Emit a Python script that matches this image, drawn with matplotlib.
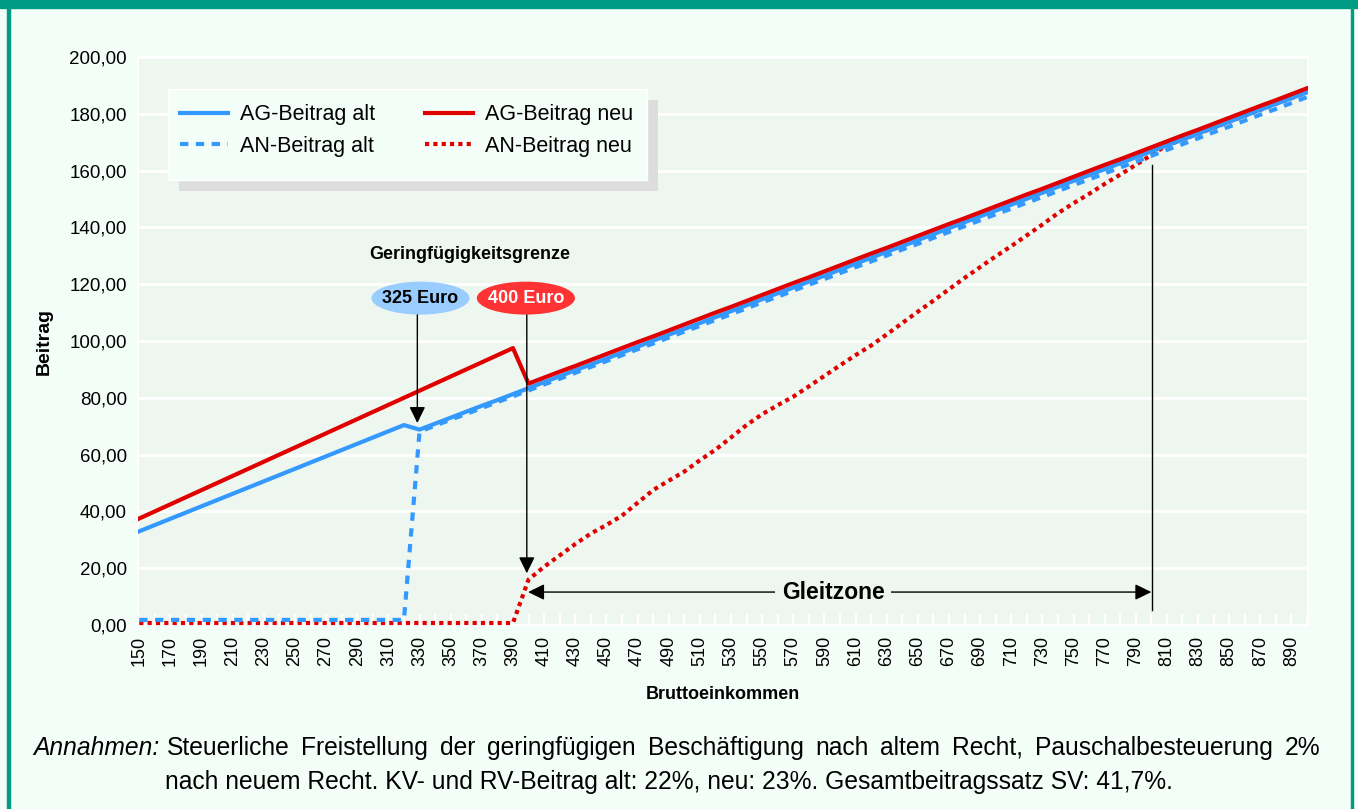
"""Beiträge alt/neu für geringfügige Beschäftigung und Gleitzone."""
import numpy as np
import matplotlib
matplotlib.use("Agg")
import matplotlib.pyplot as plt
import matplotlib.patches as patches

plt.rcParams['font.family'] = ['Liberation Sans', 'DejaVu Sans']

W, H = 1358, 809

# Bruttoeinkommen in 10-Euro-Schritten (Kategorien)
einkommen = np.arange(150, 901, 10)

ag_alt = [33.0, 35.2, 37.4, 39.6, 41.8, 44.0, 46.2, 48.4, 50.6, 52.8,
          55.0, 57.2, 59.4, 61.6, 63.8, 66.0, 68.2, 70.4, 68.8, 70.9,
          73.0, 75.1, 77.2, 79.2, 81.3, 83.4, 85.5, 87.6, 89.7, 91.7,
          93.8, 95.9, 98.0, 100.1, 102.2, 104.2, 106.3, 108.4, 110.5, 112.6,
          114.7, 116.8, 118.8, 120.9, 123.0, 125.1, 127.2, 129.3, 131.4, 133.4,
          135.5, 137.6, 139.7, 141.8, 143.9, 145.9, 148.0, 150.1, 152.2, 154.3,
          156.4, 158.4, 160.5, 162.6, 164.7, 166.8, 168.9, 170.9, 173.0, 175.1,
          177.2, 179.3, 181.4, 183.5, 185.5, 187.6]

an_alt = [1.8, 1.8, 1.8, 1.8, 1.8, 1.8, 1.8, 1.8, 1.8, 1.8,
          1.8, 1.8, 1.8, 1.8, 1.8, 1.8, 1.8, 1.8, 68.1, 70.2,
          72.3, 74.3, 76.4, 78.5, 80.5, 82.6, 84.7, 86.7, 88.8, 90.9,
          92.9, 95.0, 97.1, 99.1, 101.2, 103.3, 105.3, 107.4, 109.4, 111.5,
          113.6, 115.6, 117.7, 119.8, 121.8, 123.9, 126.0, 128.0, 130.1, 132.2,
          134.2, 136.3, 138.4, 140.4, 142.5, 144.6, 146.6, 148.7, 150.7, 152.8,
          154.9, 156.9, 159.0, 161.1, 163.1, 165.2, 167.3, 169.3, 171.4, 173.5,
          175.5, 177.6, 179.7, 181.7, 183.8, 185.9]

ag_neu = [37.5, 40.0, 42.5, 45.0, 47.5, 50.0, 52.5, 55.0, 57.5, 60.0,
          62.5, 65.0, 67.5, 70.0, 72.5, 75.0, 77.5, 80.0, 82.5, 85.0,
          87.5, 90.0, 92.5, 95.0, 97.5, 85.0, 87.1, 89.2, 91.2, 93.3,
          95.4, 97.5, 99.6, 101.6, 103.7, 105.8, 107.9, 110.0, 112.0, 114.1,
          116.2, 118.3, 120.4, 122.4, 124.5, 126.6, 128.7, 130.8, 132.8, 134.9,
          137.0, 139.1, 141.2, 143.2, 145.3, 147.4, 149.5, 151.6, 153.6, 155.7,
          157.8, 159.9, 162.0, 164.0, 166.1, 168.2, 170.3, 172.4, 174.4, 176.5,
          178.6, 180.7, 182.8, 184.8, 186.9, 189.0]

an_neu = [0.7, 0.7, 0.7, 0.7, 0.7, 0.7, 0.7, 0.7, 0.7, 0.7,
          0.7, 0.7, 0.7, 0.7, 0.7, 0.7, 0.7, 0.7, 0.7, 0.7,
          0.7, 0.7, 0.7, 0.7, 0.7, 16.0, 20.5, 24.5, 28.5, 32.2,
          35.2, 38.5, 43.0, 47.5, 50.8, 54.0, 58.0, 61.7, 66.0, 70.4,
          74.2, 77.4, 80.4, 84.0, 87.7, 91.4, 95.0, 98.4, 102.3, 106.3,
          110.3, 114.2, 118.2, 122.2, 126.0, 129.8, 133.4, 137.2, 141.0, 145.0,
          148.5, 151.8, 155.3, 158.6, 162.0, 165.5, 168.9, 170.9, 173.0, 175.1,
          177.2, 179.3, 181.4, 183.5, 185.5, 187.6]

labels = ["AG-Beitrag alt", "AN-Beitrag alt", "AG-Beitrag neu", "AN-Beitrag neu"]
y_ticks = np.arange(0, 201, 20)
x_ticks = np.arange(150, 891, 20)

grenze_alt, grenze_neu, gleit_ende = 325, 400, 800

blue = "#3399FF"
red = "#E00000"
fig_bg = "#F4FEF8"
plot_bg = "#EEF7EF"
green = "#009B84"


def px(x, y):
    return x / W, 1 - y / H


fig = plt.figure(figsize=(W / 100, H / 100), dpi=100, facecolor=fig_bg)

# gruener Rahmen
fig.patches.append(patches.Rectangle(px(0, 8), 1, 8 / H, transform=fig.transFigure,
                                     color=green, zorder=0))
fig.patches.append(patches.Rectangle(px(7, H), 2.5 / W, 1, transform=fig.transFigure,
                                     color=green, zorder=0))
fig.patches.append(patches.Rectangle(px(1350.5, H), 2.5 / W, 1, transform=fig.transFigure,
                                     color=green, zorder=0))

ax = fig.add_axes([138 / W, (H - 625) / H, 1170 / W, 568 / H])
ax.set_facecolor(plot_bg)
ax.set_xlim(149.2, 900.6)
ax.set_ylim(0, 200)

ax.set_yticks(y_ticks)
ax.set_yticklabels([f"{v:.2f}".replace(".", ",") for v in y_ticks], fontsize=13.5)
ax.set_xticks(x_ticks)
ax.set_xticklabels([str(v) for v in x_ticks], rotation=90, fontsize=13)
ax.set_xticks(einkommen, minor=True)
ax.tick_params(axis="y", length=0, pad=8)
ax.tick_params(axis="x", which="both", direction="in", length=8, width=1.6,
               color="white", pad=8)
ax.grid(axis="y", color="white", lw=2)
ax.set_axisbelow(True)
for s in ax.spines.values():
    s.set_color("white")
    s.set_linewidth(1.5)
    s.set_zorder(0.6)

lw = 3.0
l4, = ax.plot(einkommen, an_neu, color=red, lw=lw, ls=(0, (1.0, 1.0)),
              dash_capstyle="butt", zorder=2, clip_on=False)
l2, = ax.plot(einkommen, an_alt, color=blue, lw=lw, ls=(0, (2.0, 1.8)),
              dash_capstyle="butt", zorder=3, clip_on=False)
l1, = ax.plot(einkommen, ag_alt, color=blue, lw=lw, zorder=4)
l3, = ax.plot(einkommen, ag_neu, color=red, lw=lw, zorder=5)

ax.set_ylabel("Beitrag", fontsize=14, fontweight="bold", labelpad=12)
ax.set_xlabel("Bruttoeinkommen", fontsize=13, fontweight="bold", labelpad=14)

# Geringfuegigkeitsgrenze
ax.text(362.4, 130.3, "Geringfügigkeitsgrenze", ha="center", va="center",
        fontsize=13, fontweight="bold")
ax.add_patch(patches.Ellipse((330.6, 115.1), 63, 11.6, facecolor="#99CCFF",
                             edgecolor="none", zorder=6))
ax.text(330.6, 115.1, f"{grenze_alt} Euro", ha="center", va="center",
        fontsize=13, fontweight="bold", zorder=7)
ax.add_patch(patches.Ellipse((398.3, 115.1), 63, 11.6, facecolor="#FF3333",
                             edgecolor="none", zorder=6))
ax.text(398.3, 115.1, f"{grenze_neu} Euro", ha="center", va="center",
        fontsize=13, fontweight="bold", color="white", zorder=7)

head = dict(arrowstyle="-|>,head_length=0.45,head_width=0.22", mutation_scale=22,
            lw=1, color="black", shrinkA=0, shrinkB=0)
ax.annotate("", xy=(328.6, 71.1), xytext=(328.6, 109.2), arrowprops=head, zorder=8)
ax.annotate("", xy=(398.9, 18.2), xytext=(398.9, 109.2), arrowprops=head, zorder=8)

# Gleitzone
both = dict(head)
both["arrowstyle"] = "<|-|>,head_length=0.45,head_width=0.22"
ax.annotate("", xy=(gleit_ende, 11.6), xytext=(399.7, 11.6), arrowprops=both, zorder=8)
ax.text(595.7, 11.6, "Gleitzone", ha="center", va="center", fontsize=16.5,
        fontweight="bold", zorder=9,
        bbox=dict(boxstyle="square,pad=0.3", facecolor=plot_bg, edgecolor="none"))
ax.plot([gleit_ende + 0.5, gleit_ende + 0.5], [5.3, 162], color="black", lw=1, zorder=8)

# Legende mit Schatten
x0, y0, x1, y1 = 168, 89, 647, 180
fig.patches.append(patches.Rectangle(px(x0 + 11, y1 + 11), (x1 - x0) / W, (y1 - y0) / H,
                                     transform=fig.transFigure, facecolor="#DDDDDD",
                                     edgecolor="none", zorder=3))
fig.patches.append(patches.Rectangle(px(x0, y1), (x1 - x0) / W, (y1 - y0) / H,
                                     transform=fig.transFigure, facecolor=fig_bg,
                                     edgecolor="white", lw=1, zorder=3))
leg = fig.legend([l1, l2, l3, l4], labels, ncol=2, loc="center",
                 bbox_to_anchor=px((x0 + x1) / 2 - 1, (y0 + y1) / 2 - 4),
                 frameon=False, fontsize=15.5, handlelength=2.25, handletextpad=0.55,
                 columnspacing=2.3, labelspacing=0.5)
leg.set_zorder(10)

# Annahmen (erste Zeile im Blocksatz)
fs = 17.7
base1, base2 = 755, 789
fig.text(*px(33, base1), "Annahmen:", fontsize=fs, style="italic", va="baseline")
zeile1 = ("Steuerliche Freistellung der geringfügigen Beschäftigung nach "
          "altem Recht, Pauschalbesteuerung 2%")
zeile2 = ("nach neuem Recht. KV- und RV-Beitrag alt: 22%, neu: 23%. "
          "Gesamtbeitragssatz SV: 41,7%.")
renderer = fig.canvas.get_renderer()
words = [fig.text(0, 0, w, fontsize=fs, va="baseline") for w in zeile1.split()]
widths = [t.get_window_extent(renderer).width for t in words]
gap = (1320 - 167 - sum(widths)) / (len(words) - 1)
xpos = 167
for t, w in zip(words, widths):
    t.set_position(px(xpos, base1))
    xpos += w + gap
fig.text(*px(165, base2), zeile2, fontsize=fs, va="baseline")

fig.savefig("out.png", dpi=100, facecolor=fig.get_facecolor())
